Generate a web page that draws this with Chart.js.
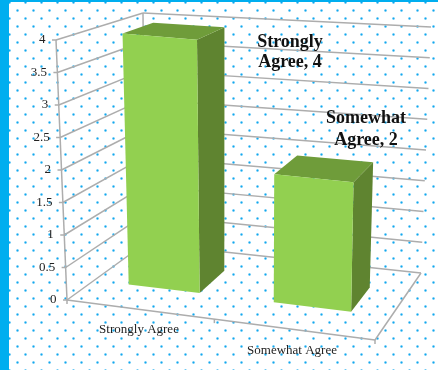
<!DOCTYPE html>
<html>
<head>
<meta charset="utf-8">
<style>
html,body{margin:0;padding:0;width:438px;height:370px;overflow:hidden;background:#fff}
#frame{position:absolute;left:0;top:0;width:438px;height:370px;
  background-color:#fff;
  background-image:
    radial-gradient(circle at 5.5px 2.5px,#12a8ee 0,#12a8ee .7px,rgba(18,168,238,.35) 1.2px,transparent 1.9px),
    radial-gradient(circle at 13.5px 10.5px,#12a8ee 0,#12a8ee .7px,rgba(18,168,238,.35) 1.2px,transparent 1.9px);
  background-size:16px 16px;background-position:4px 0}
#edgeL{position:absolute;left:0;top:0;width:9px;height:370px;background:#00aeef}
#edgeT{position:absolute;left:0;top:0;width:438px;height:2px;background:#00aeef}
#wrap{position:absolute;left:0;top:0;width:438px;height:370px}
</style>
</head>
<body>
<div id="frame"></div><div id="edgeL"></div><div id="edgeT"></div>
<div id="wrap"><canvas id="c" width="438" height="370"></canvas></div>
<script src="https://cdn.jsdelivr.net/npm/chart.js@4"></script>
<script>
const categories = ['Strongly Agree', 'Somewhat Agree'];
const agreement = [4, 2];
const valueTicks = [0, 0.5, 1, 1.5, 2, 2.5, 3, 3.5, 4];
const pointLabels = [['Strongly', 'Agree, 4'], ['Somewhat', 'Agree, 2']];

// Corners of the 3D plot box on the page: [across, height, depth]
const box = {
  '000': [67, 300], '100': [375, 340], '010': [56, 40], '110': [380, 72],
  '001': [145, 243.5], '101': [421, 273], '011': [143, 13], '111': [431, 27]
};
const DEPTH_FRONT = 0.35, DEPTH_BACK = 0.72;

function project(u, v, d) {
  // foreshortening across the floor, nearer on the right
  const a = u / (1 + 0.09 * (1 - u));
  const mix = i => {
    let s = 0;
    for (const ka of [0, 1]) for (const kv of [0, 1]) for (const kd of [0, 1]) {
      const w = (ka ? a : 1 - a) * (kv ? v : 1 - v) * (kd ? d : 1 - d);
      s += w * box['' + ka + kv + kd][i];
    }
    return s;
  };
  return [mix(0), mix(1)];
}

function poly(ctx, pts, fill) {
  ctx.beginPath();
  pts.forEach((p, i) => i ? ctx.lineTo(p[0], p[1]) : ctx.moveTo(p[0], p[1]));
  ctx.closePath();
  ctx.fillStyle = fill;
  ctx.fill();
}

function segment(ctx, a, b) {
  ctx.beginPath();
  ctx.moveTo(a[0], a[1]);
  ctx.lineTo(b[0], b[1]);
  ctx.stroke();
}

const perspectiveBars = {
  id: 'perspectiveBars',
  // the walls and floor grid, taken from the value scale
  beforeDatasetsDraw(chart) {
    const { ctx, scales: { y }, chartArea: ca } = chart;
    ctx.save();
    ctx.strokeStyle = '#adadad';
    ctx.lineWidth = 1.5;
    valueTicks.forEach(t => {
      const v = (ca.bottom - y.getPixelForValue(t)) / ca.height;
      segment(ctx, project(0, v, 0), project(0, v, 1));
      segment(ctx, project(0, v, 1), project(1, v, 1));
      const p = project(0, v, 0);
      segment(ctx, [p[0] - 4, p[1]], p);
      ctx.fillStyle = '#222';
      ctx.font = '13px "Liberation Serif"';
      ctx.textAlign = 'right';
      ctx.textBaseline = 'middle';
      ctx.fillText(String(t), p[0] - 10.5, p[1]);
    });
    segment(ctx, project(0, 0, 0), project(0, 1, 0));
    segment(ctx, project(0, 0, 1), project(0, 1, 1));
    segment(ctx, project(0, 0, 0), project(1, 0, 0));
    segment(ctx, project(1, 0, 0), project(1, 0, 1));
    [0, 0.5, 1].forEach(u => {
      const p = project(u, 0, 0);
      segment(ctx, p, [p[0], p[1] + 4]);
    });
    ctx.restore();
  },
  // each bar becomes a box built from its element on the two scales
  beforeDatasetDraw(chart, args) {
    const { ctx, chartArea: ca } = chart;
    const ds = chart.data.datasets[args.index];
    args.meta.data.forEach(bar => {
      const u0 = (bar.x - bar.width / 2 - ca.left) / ca.width;
      const u1 = (bar.x + bar.width / 2 - ca.left) / ca.width;
      const v = (ca.bottom - bar.y) / ca.height;
      const f = DEPTH_FRONT, b = DEPTH_BACK;
      poly(ctx, [project(u1, 0, f), project(u1, 0, b), project(u1, v, b), project(u1, v, f)], ds.sideColor);
      poly(ctx, [project(u0, v, f), project(u1, v, f), project(u1, v, b), project(u0, v, b)], ds.topColor);
      poly(ctx, [project(u0, 0, f), project(u1, 0, f), project(u1, v, f), project(u0, v, f)], ds.backgroundColor);
    });
    return false;
  },
  afterDatasetsDraw(chart) {
    const { ctx } = chart;
    ctx.save();
    ctx.textAlign = 'center';
    ctx.textBaseline = 'middle';
    ctx.fillStyle = '#222';
    ctx.font = '13px "Liberation Serif"';
    ctx.fillText(categories[0], 139, 330);
    ctx.fillText(categories[1], 292, 351);
    ctx.fillStyle = '#111';
    ctx.font = 'bold 18px "Liberation Serif"';
    const anchors = [[290, 42, 62], [366, 118, 140]];
    pointLabels.forEach((lines, i) => {
      ctx.fillText(lines[0], anchors[i][0], anchors[i][1]);
      ctx.fillText(lines[1], anchors[i][0], anchors[i][2]);
    });
    ctx.restore();
  }
};

new Chart(document.getElementById('c'), {
  type: 'bar',
  plugins: [perspectiveBars],
  data: {
    labels: categories,
    datasets: [{
      data: agreement,
      backgroundColor: '#92d050',
      sideColor: '#5f8430',
      topColor: '#6f9c3a',
      barPercentage: 1,
      categoryPercentage: 0.5
    }]
  },
  options: {
    responsive: false,
    animation: false,
    layout: { padding: 0 },
    plugins: { legend: { display: false }, tooltip: { enabled: false }, title: { display: false } },
    scales: {
      x: { display: false },
      y: { display: false, min: 0, max: 4, ticks: { stepSize: 0.5 } }
    }
  }
});
</script>
</body>
</html>
